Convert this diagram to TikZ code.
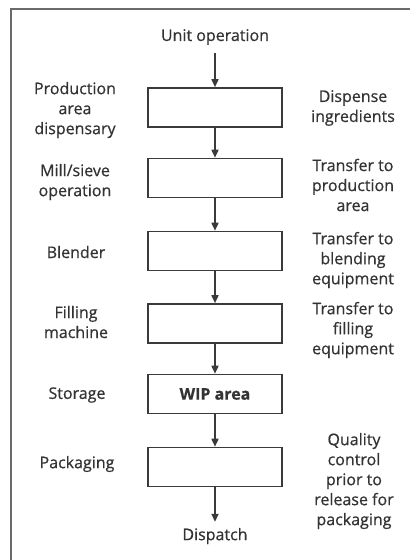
\documentclass[tikz,border=0pt]{standalone}
\usepackage{fontspec}
\setmainfont{Open Sans}[FakeBold=0.6]
\usetikzlibrary{arrows.meta}
\definecolor{txt}{HTML}{333333}
\definecolor{ln}{HTML}{3A3A3A}
\definecolor{fr}{HTML}{6A6A6A}
\tikzset{
  box/.style={draw=ln, line width=1.6pt, minimum width=134pt, minimum height=39pt,
    inner sep=0pt, text=txt, font=\fontsize{16}{20}\selectfont},
  lbl/.style={align=center, text=txt, font=\fontsize{16}{20}\selectfont, inner sep=0pt},
  arr/.style={draw=ln, line width=1.6pt, -{Triangle[length=8pt,width=7pt]}},
}
\begin{document}
\begin{tikzpicture}[x=1pt,y=-1pt]
\useasboundingbox (0,0) rectangle (410,560);
\fill[white] (0,0) rectangle (410,560);
\draw[fr, line width=2pt] (11,560) -- (11,9) -- (410,9);

\node[lbl] (unit) at (215,37) {Unit operation};

\node[box] (b1) at (215,107.5) {};
\node[box] (b2) at (215,178) {};
\node[box] (b3) at (215,251) {};
\node[box] (b4) at (215,323.5) {};
\node[box] (b5) at (215,394) {\textbf{WIP area}};
\node[box] (b6) at (215,467) {};

\node[lbl] (disp) at (215,536) {Dispatch};

\node[lbl] (l1) at (75,110) {Production\\area\\dispensary};
\node[lbl] (l2) at (75,182) {Mill/sieve\\operation};
\node[lbl] (l3) at (76,252) {Blender};
\node[lbl] (l4) at (76,322) {Filling\\machine};
\node[lbl] (l5) at (77,395) {Storage};
\node[lbl] (l6) at (77,464) {Packaging};

\node[lbl] (r1) at (353,108) {Dispense\\ingredients};
\node[lbl] (r2) at (353,185) {Transfer to\\production\\area};
\node[lbl] (r3) at (353,260) {Transfer to\\blending\\equipment};
\node[lbl] (r4) at (353,330) {Transfer to\\filling\\equipment};
\node[lbl] (r6) at (354,481) {Quality\\control\\prior to\\release for\\packaging};

\draw[arr, shorten <=8pt] (unit) -- (b1);
\draw[arr] (b1) -- (b2);
\draw[arr] (b2) -- (b3);
\draw[arr] (b3) -- (b4);
\draw[arr] (b4) -- (b5);
\draw[arr] (b5) -- (b6);
\draw[arr, shorten >=6pt] (b6) -- (disp);
\end{tikzpicture}
\end{document}
